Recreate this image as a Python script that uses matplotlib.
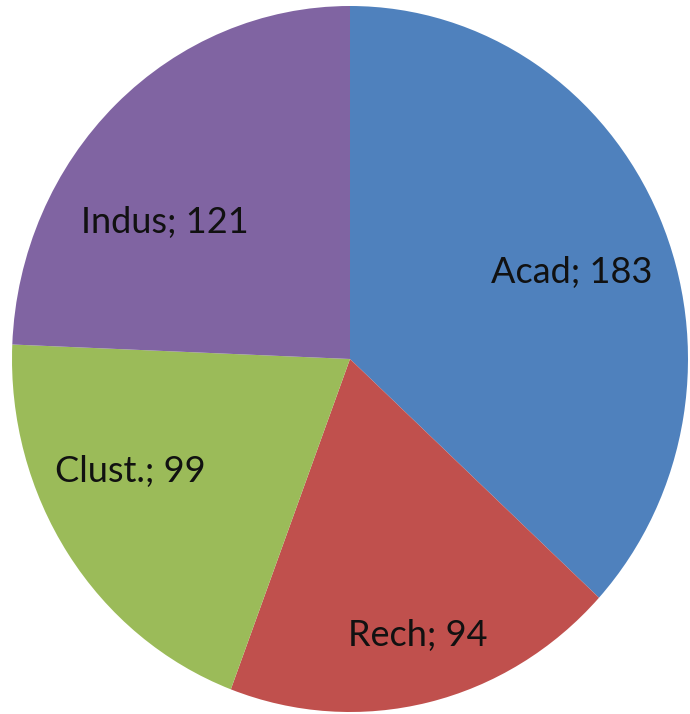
import matplotlib
matplotlib.use("Agg")
import matplotlib.pyplot as plt
import numpy as np

# slice data, clockwise from 12 o'clock
labels = ["Acad", "Rech", "Clust.", "Indus"]
values = [183, 94, 99, 121]
colors = ["#4F81BD", "#C0504D", "#9BBB59", "#8064A2"]

# label anchor points (data coords, pie radius = 1)
label_pos = [(0.657, 0.246), (0.201, -0.782), (-0.651, -0.320), (-0.547, 0.388)]

fig = plt.figure(figsize=(6.9, 7.14), dpi=100)
ax = fig.add_axes([12 / 690, 2 / 714, 676 / 690, 706 / 714])

ax.pie(values, colors=colors, startangle=90, counterclock=False,
       wedgeprops=dict(linewidth=0))
ax.set_aspect("auto")
ax.set_xlim(-1, 1)
ax.set_ylim(-1, 1)
ax.axis("off")

for name, val, (x, y) in zip(labels, values, label_pos):
    ax.text(x, y, f"{name}; {val}", ha="center", va="center",
            fontsize=26, family="Lato", color="#111111")

fig.savefig("out.png", dpi=100)
